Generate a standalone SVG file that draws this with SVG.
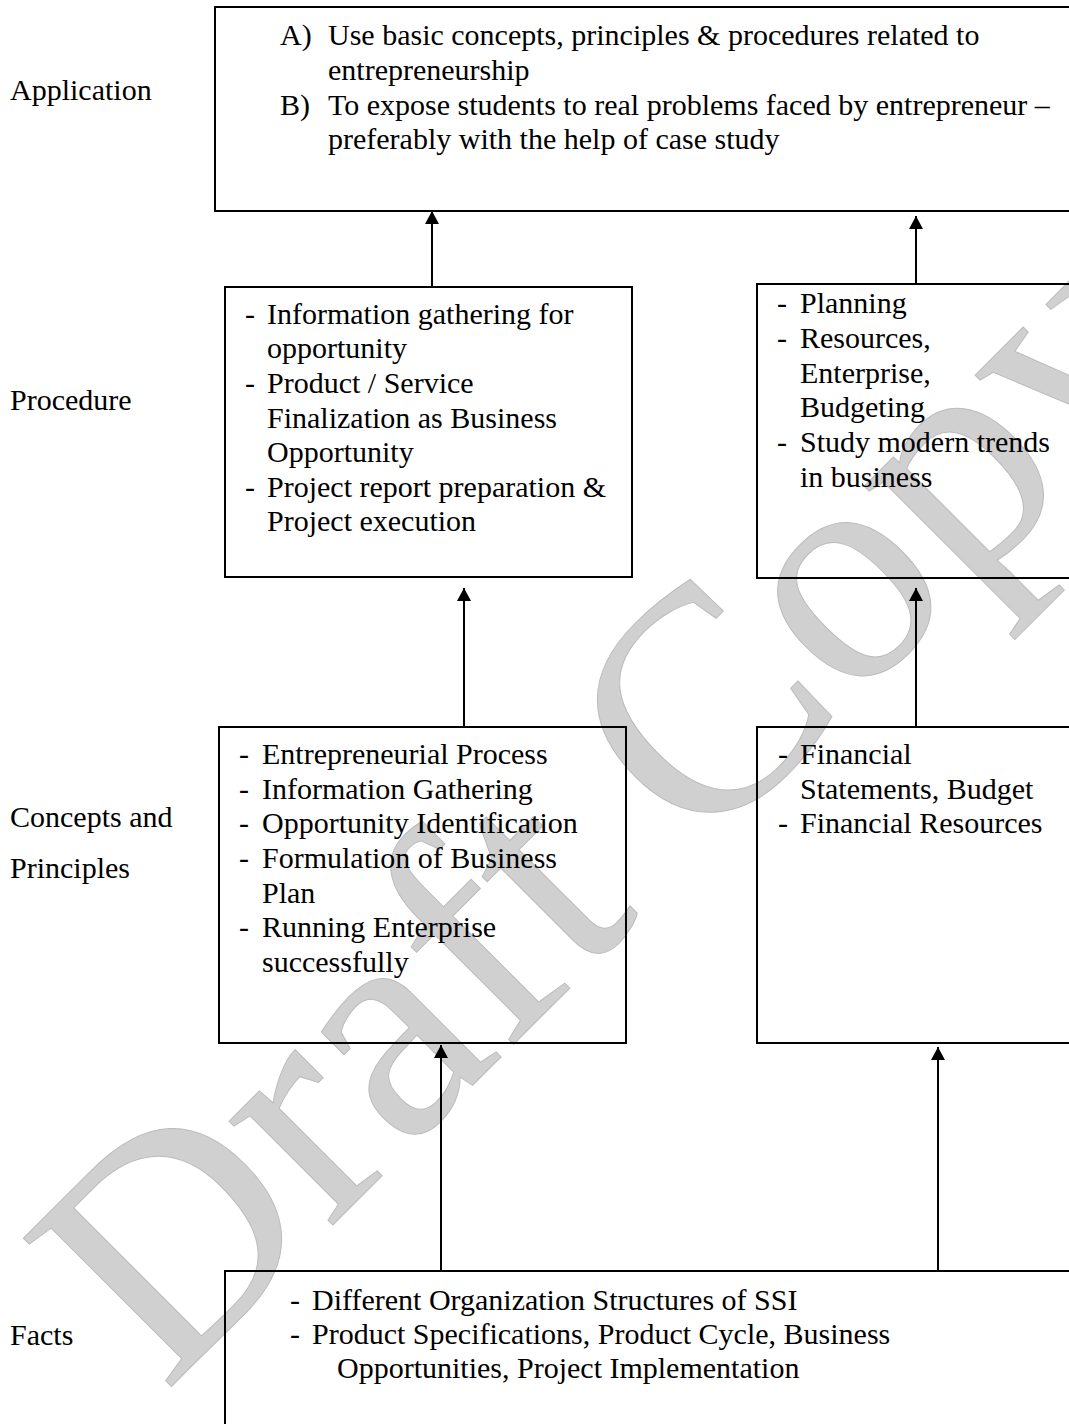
<svg xmlns="http://www.w3.org/2000/svg" width="1069" height="1424" viewBox="0 0 1069 1424">
<style>
  text { font-family: "Liberation Serif", "Times New Roman", serif; font-size: 30px; fill: #000; }
  .box { fill: none; stroke: #000; stroke-width: 2; }
  .conn { stroke: #000; stroke-width: 2; fill: none; }
  .wm { font-family: "Liberation Serif", "Times New Roman", serif; font-size: 320px; fill: #d0d0d0; stroke: #bbbbbb; stroke-width: 1; }
</style>
<defs>
  <marker id="arrow" markerUnits="userSpaceOnUse" markerWidth="16" markerHeight="16" refX="13" refY="7" orient="auto">
    <path d="M0,0 L13,7 L0,14 Z" fill="#000"/>
  </marker>
</defs>
<rect width="1069" height="1424" fill="#fff"/>
<g id="watermark">
  <text class="wm" x="0" y="0" transform="translate(165,1393) rotate(-45)">Draft Copy</text>
</g>
<g id="labels">
  <text x="10" y="100">Application</text>
  <text x="10" y="410">Procedure</text>
  <text x="10" y="827">Concepts and</text>
  <text x="10" y="878">Principles</text>
  <text x="10" y="1345">Facts</text>
</g>
<g id="application">
  <rect class="box" x="215" y="7" width="900" height="204"/>
  <text x="280" y="45">A)</text>
  <text x="328" y="45">Use basic concepts, principles &amp; procedures related to</text>
  <text x="328" y="80">entrepreneurship</text>
  <text x="280" y="115">B)</text>
  <text x="328" y="115">To expose students to real problems faced by entrepreneur –</text>
  <text x="328" y="149">preferably with the help of case study</text>
</g>
<g id="procedure1">
  <rect class="box" x="225" y="287" width="407" height="290"/>
  <text x="245" y="324">-</text><text x="267" y="324">Information gathering for</text>
  <text x="267" y="358">opportunity</text>
  <text x="245" y="393">-</text><text x="267" y="393">Product / Service</text>
  <text x="267" y="428">Finalization as Business</text>
  <text x="267" y="462">Opportunity</text>
  <text x="245" y="497">-</text><text x="267" y="497">Project report preparation &amp;</text>
  <text x="267" y="531">Project execution</text>
</g>
<g id="procedure2">
  <rect class="box" x="757" y="284" width="400" height="294"/>
  <text x="777" y="313">-</text><text x="800" y="313">Planning</text>
  <text x="777" y="348">-</text><text x="800" y="348">Resources,</text>
  <text x="800" y="383">Enterprise,</text>
  <text x="800" y="417">Budgeting</text>
  <text x="777" y="452">-</text><text x="800" y="452">Study modern trends</text>
  <text x="800" y="487">in business</text>
</g>
<g id="concepts1">
  <rect class="box" x="219" y="727" width="407" height="316"/>
  <text x="239" y="764">-</text><text x="262" y="764">Entrepreneurial Process</text>
  <text x="239" y="799">-</text><text x="262" y="799">Information Gathering</text>
  <text x="239" y="833">-</text><text x="262" y="833">Opportunity Identification</text>
  <text x="239" y="868">-</text><text x="262" y="868">Formulation of Business</text>
  <text x="262" y="903">Plan</text>
  <text x="239" y="937">-</text><text x="262" y="937">Running Enterprise</text>
  <text x="262" y="972">successfully</text>
</g>
<g id="concepts2">
  <rect class="box" x="757" y="727" width="400" height="316"/>
  <text x="778" y="764">-</text><text x="800" y="764">Financial</text>
  <text x="800" y="799">Statements, Budget</text>
  <text x="778" y="833">-</text><text x="800" y="833">Financial Resources</text>
</g>
<g id="facts">
  <rect class="box" x="225" y="1271" width="900" height="200"/>
  <text x="290" y="1310">-</text><text x="312" y="1310">Different Organization Structures of SSI</text>
  <text x="290" y="1344">-</text><text x="312" y="1344">Product Specifications, Product Cycle, Business</text>
  <text x="337" y="1378">Opportunities, Project Implementation</text>
</g>
<g id="connectors">
  <line class="conn" x1="432" y1="287" x2="432" y2="211" marker-end="url(#arrow)"/>
  <line class="conn" x1="916" y1="284" x2="916" y2="216" marker-end="url(#arrow)"/>
  <line class="conn" x1="464" y1="727" x2="464" y2="588" marker-end="url(#arrow)"/>
  <line class="conn" x1="916" y1="727" x2="916" y2="588" marker-end="url(#arrow)"/>
  <line class="conn" x1="441" y1="1271" x2="441" y2="1045" marker-end="url(#arrow)"/>
  <line class="conn" x1="938" y1="1271" x2="938" y2="1047" marker-end="url(#arrow)"/>
</g>
</svg>
